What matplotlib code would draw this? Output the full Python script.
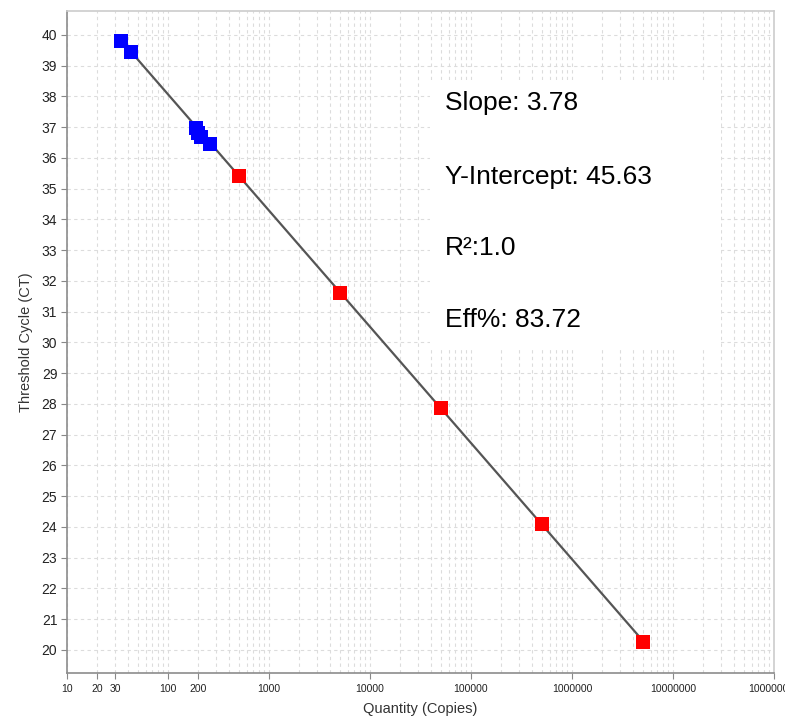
import matplotlib
matplotlib.use("Agg")
import matplotlib.pyplot as plt
from matplotlib.ticker import FixedLocator, FixedFormatter, LogLocator, NullFormatter
from matplotlib.patches import Rectangle
import numpy as np

# Data
unknown_qty = [34.5, 43, 189, 200, 212, 262]
unknown_ct = [39.80, 39.45, 36.97, 36.82, 36.68, 36.46]
std_qty = [500, 5000, 50000, 500000, 5000000]
std_ct = [35.40, 31.62, 27.88, 24.08, 20.25]
slope = -3.78
intercept = 45.63
fit_range = [43, 5000000]
xtick_vals = [10, 20, 30, 100, 200, 1000, 10000, 100000, 1000000, 10000000, 100000000]
xtick_labels = ["10", "20", "30", "100", "200", "1000", "10000", "100000",
                "1000000", "10000000", "100000000"]
ytick_vals = list(range(20, 41))
stats_lines = ["Slope: 3.78", "Y-Intercept: 45.63", "R\u00b2:1.0", "Eff%: 83.72"]

plt.rcParams['font.family'] = ['Liberation Sans', 'DejaVu Sans']

fig = plt.figure(figsize=(7.85, 7.16), dpi=100)
ax = fig.add_axes([67/785, 43/716, 707/785, 662/716])
ax.set_xscale('log')
ax.set_xlim(10, 1e8)
ax.set_ylim(19.25, 40.78)

# grid
ax.xaxis.set_minor_locator(LogLocator(base=10, subs=np.arange(2, 10)))
ax.xaxis.set_minor_formatter(NullFormatter())
ax.grid(True, which='both', axis='x', color='#dcdcdc', linestyle=(0, (3, 3)), linewidth=0.8)
ax.grid(True, which='major', axis='y', color='#dcdcdc', linestyle=(0, (3, 3)), linewidth=0.8)
ax.set_axisbelow(True)

# fit line
fx = np.array(fit_range, dtype=float)
fy = intercept + slope * np.log10(fx)
ax.plot(fx, fy, color='#555555', linewidth=1.6, zorder=3)

ax.plot(unknown_qty, unknown_ct, linestyle='none', marker='s', markersize=9.5,
        color='#0000ff', markeredgewidth=0, zorder=4)
ax.plot(std_qty, std_ct, linestyle='none', marker='s', markersize=9.5,
        color='#ff0000', markeredgewidth=0, zorder=4)

# ticks
ax.xaxis.set_major_locator(FixedLocator(xtick_vals))
ax.xaxis.set_major_formatter(FixedFormatter(xtick_labels))
ax.tick_params(axis='x', which='major', labelsize=7.5, length=4, color='#888888',
               labelcolor='#222222', pad=4)
ax.tick_params(axis='x', which='minor', length=0)
for lbl in ax.get_xticklabels():
    lbl.set_family(['Liberation Sans Narrow', 'Liberation Sans', 'DejaVu Sans'])
ax.set_yticks(ytick_vals)
ax.tick_params(axis='y', labelsize=10, length=4, color='#888888',
               labelcolor='#222222', pad=3)

for s in ['left', 'bottom']:
    ax.spines[s].set_color('#8c8c8c')
    ax.spines[s].set_linewidth(1.2)
for s in ['top', 'right']:
    ax.spines[s].set_color('#cccccc')
    ax.spines[s].set_linewidth(1.2)

ax.set_xlabel("Quantity (Copies)", fontsize=10.5, color='#333333', labelpad=6)
ax.set_ylabel("Threshold Cycle (CT)", fontsize=10.5, color='#333333', labelpad=6)

# stats box
ax.add_patch(Rectangle((0.513, 0.488), 0.412, 0.408, transform=ax.transAxes,
                       facecolor='white', edgecolor='none', zorder=5))
ys = [0.861, 0.749, 0.642, 0.533]
for t, y in zip(stats_lines, ys):
    ax.text(0.535, y, t, transform=ax.transAxes, fontsize=19, va='center',
            ha='left', color='black', zorder=6)

fig.savefig("out.png", dpi=100)
